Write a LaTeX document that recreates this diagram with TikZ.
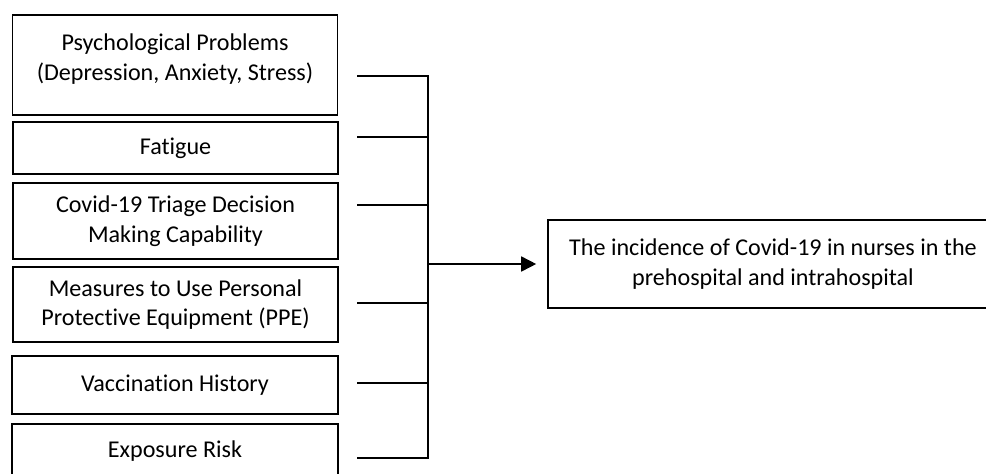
\documentclass[tikz,border=0pt]{standalone}
\usepackage{fontspec}
\setmainfont{Carlito}[Ligatures=NoCommon]
\usetikzlibrary{arrows.meta}
\begin{document}
\begin{tikzpicture}[x=1pt,y=-1pt,
  box/.style={draw=black, line width=1.6pt, rectangle, align=center, inner sep=0pt,
    font=\fontsize{24.1}{29.5}\selectfont},
  conn/.style={draw=black, line width=1.6pt},
  arr/.style={conn, -{Triangle[length=15pt,width=15pt]}, shorten >=11pt}]
\useasboundingbox (0,0) rectangle (986,474);
\clip (0,0) rectangle (986,474);
\node[box, minimum width=325, minimum height=100] (b1) at (175,65)
  {Psychological Problems\\(Depression, Anxiety, Stress)\\[-13.5pt]~};
\node[box, minimum width=325, minimum height=52] (b2) at (175.5,148) {Fatigue};
\node[box, minimum width=325, minimum height=76] (b3) at (175.5,221)
  {Covid-19 Triage Decision\\Making Capability};
\node[box, minimum width=325, minimum height=75] (b4) at (175.5,304.5)
  {Measures to Use Personal\\Protective Equipment (PPE)};
\node[box, minimum width=326, minimum height=58] (b5) at (175,385) {Vaccination History};
\node[box, minimum width=326, minimum height=54] (b6) at (175,451) {Exposure Risk};
\node[box, minimum width=450, minimum height=88] (b7) at (773,264)
  {The incidence of Covid-19 in nurses in the\\prehospital and intrahospital};
\coordinate (s1) at (357,76);
\coordinate (s2) at (357,137);
\coordinate (s3) at (357,205);
\coordinate (s4) at (357,303);
\coordinate (s5) at (357,383);
\coordinate (s6) at (357,458);
\coordinate (bt) at (428,76);
\coordinate (bb) at (428,458);
\coordinate (bm) at (428,264);
\draw[conn] (s1) -- (bt) -- (bb) -- (s6);
\draw[conn] (s2) -- (s2 -| bt);
\draw[conn] (s3) -- (s3 -| bt);
\draw[conn] (s4) -- (s4 -| bt);
\draw[conn] (s5) -- (s5 -| bt);
\draw[arr] (bm) -- (b7.west);
\end{tikzpicture}
\end{document}
